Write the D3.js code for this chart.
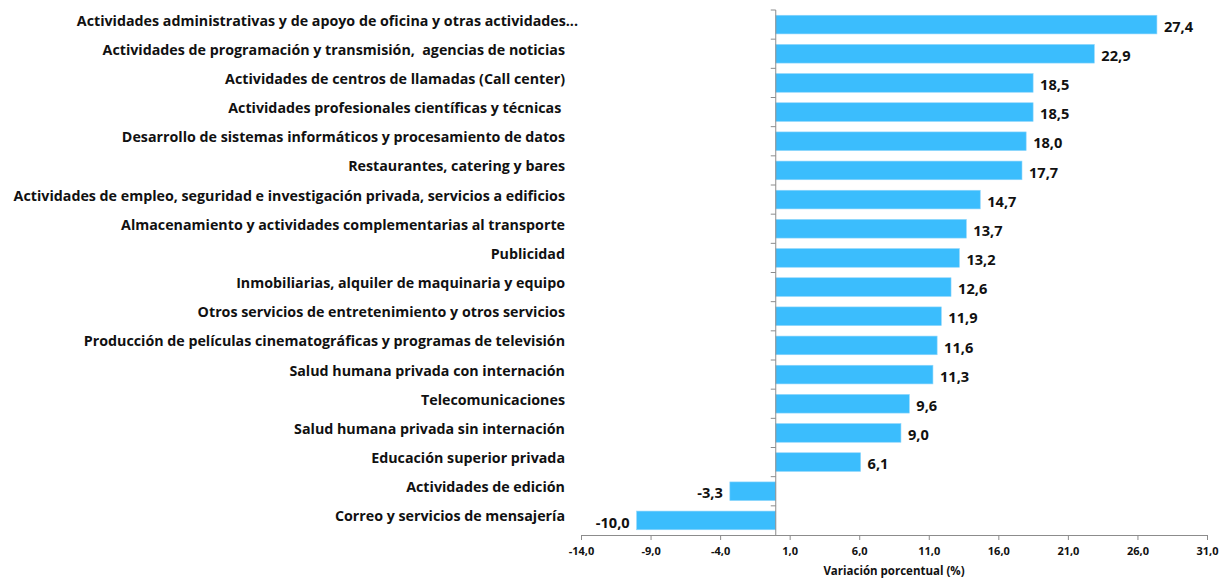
<!DOCTYPE html>
<meta charset="utf-8">
<style>
body { margin: 0; background: #fff; }
text { font-family: "Open Sans", "Noto Sans", sans-serif; font-weight: bold; fill: #111; white-space: pre; }
.axis path, .axis line { stroke: #8c8c8c; }
</style>
<body>
<script src="https://d3js.org/d3.v7.min.js"></script>
<script>

var categories = [
  "Actividades administrativas y de apoyo de oficina y otras actividades...",
  "Actividades de programación y transmisión,  agencias de noticias",
  "Actividades de centros de llamadas (Call center)",
  "Actividades profesionales científicas y técnicas ",
  "Desarrollo de sistemas informáticos y procesamiento de datos",
  "Restaurantes, catering y bares",
  "Actividades de empleo, seguridad e investigación privada, servicios a edificios",
  "Almacenamiento y actividades complementarias al transporte",
  "Publicidad",
  "Inmobiliarias, alquiler de maquinaria y equipo",
  "Otros servicios de entretenimiento y otros servicios",
  "Producción de películas cinematográficas y programas de televisión",
  "Salud humana privada con internación",
  "Telecomunicaciones",
  "Salud humana privada sin internación",
  "Educación superior privada",
  "Actividades de edición",
  "Correo y servicios de mensajería"
];

var values = [27.4, 22.9, 18.5, 18.5, 18.0, 17.7, 14.7, 13.7, 13.2, 12.6, 11.9, 11.6, 11.3, 9.6, 9.0, 6.1, -3.3, -10.0];

var xTicks = [-14, -9, -4, 1, 6, 11, 16, 21, 26, 31];

var width = 1224,
    height = 578;

var x = d3.scaleLinear()
    .domain([-14, 31])
    .range([581, 1207]);

var y = d3.scaleBand()
    .domain(categories)
    .range([10, 535])
    .paddingInner(0.36)
    .paddingOuter(0.18);

var fmt = function(d) { return d3.format(".1f")(d).replace(".", ",").replace("\u2212", "-"); };

var svg = d3.select("body").append("svg")
    .attr("width", width)
    .attr("height", height);

svg.selectAll(".bar")
    .data(values)
  .enter().append("rect")
    .attr("class", "bar")
    .attr("x", function(d) { return x(Math.min(0, d)); })
    .attr("y", function(d, i) { return y(categories[i]); })
    .attr("width", function(d) { return Math.abs(x(d) - x(0)); })
    .attr("height", y.bandwidth())
    .attr("fill", "#3bbdfd")
    .attr("stroke", "#8fd6fb")
    .attr("stroke-width", 0.6);

svg.selectAll(".val")
    .data(values)
  .enter().append("text")
    .attr("class", "val")
    .attr("x", function(d) { return d >= 0 ? x(d) + 7 : x(d) - 7; })
    .attr("y", function(d, i) { return y(categories[i]) + y.bandwidth() / 2 + 2; })
    .attr("dy", "0.35em")
    .attr("text-anchor", function(d) { return d >= 0 ? "start" : "end"; })
    .style("font-size", "14.6px")
    .text(fmt);

// bottom axis
var xAxis = svg.append("g")
    .attr("class", "axis")
    .attr("transform", "translate(0,535)")
    .call(d3.axisBottom(x).tickValues(xTicks).tickSize(5).tickSizeOuter(5).tickFormat(fmt));

xAxis.selectAll("text")
    .style("font-size", "11px")
    .attr("dy", "1.1em");

// vertical axis at zero with ticks between categories
var bounds = categories.map(function(c) { return y(c) - y.step() * y.paddingInner() / 2; });

var yAxis = svg.append("g").attr("class", "axis");
yAxis.append("line")
    .attr("x1", x(0)).attr("x2", x(0))
    .attr("y1", 10).attr("y2", 535);
yAxis.selectAll(".tk")
    .data(bounds)
  .enter().append("line")
    .attr("x1", x(0) - 5).attr("x2", x(0))
    .attr("y1", function(d) { return d; })
    .attr("y2", function(d) { return d; });

// the truncated first label runs past the others in the original
svg.selectAll(".cat")
    .data(categories)
  .enter().append("text")
    .attr("class", "cat")
    .attr("x", function(d, i) { return i === 0 ? 578 : 565; })
    .attr("y", function(d) { return y(d) + y.bandwidth() / 2 - 4; })
    .attr("dy", "0.35em")
    .attr("text-anchor", "end")
    .style("font-size", "14.25px")
    .text(function(d) { return d; });

svg.append("text")
    .attr("x", (x(-14) + x(31)) / 2)
    .attr("y", 575)
    .attr("text-anchor", "middle")
    .style("font-size", "11.5px")
    .text("Variación porcentual (%)");

</script>
